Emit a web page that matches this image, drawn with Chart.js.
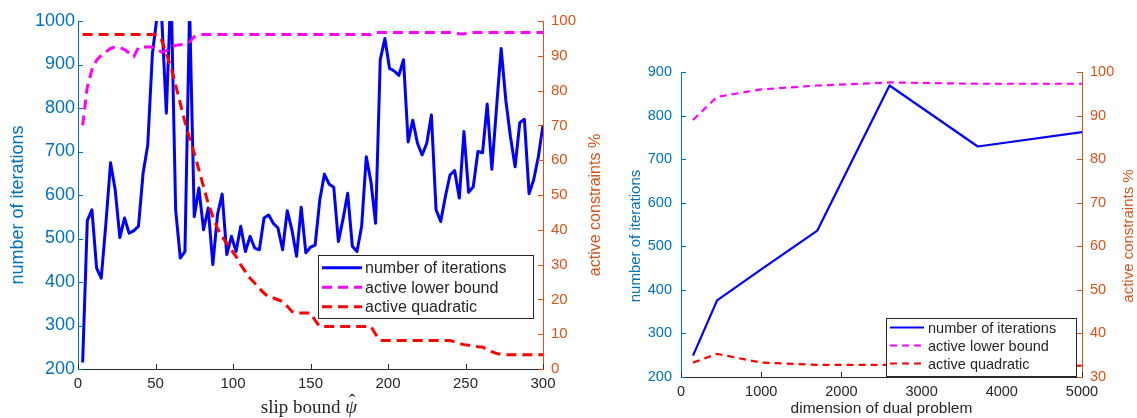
<!DOCTYPE html>
<html>
<head>
<meta charset="utf-8">
<script src="https://cdn.jsdelivr.net/npm/chart.js@4.4.1/dist/chart.umd.min.js"></script>
<style>
  html, body { margin: 0; padding: 0; background: #fff; }
  #wrap { position: relative; width: 1137px; height: 418px; overflow: hidden; }
  canvas { position: absolute; top: 0; }
  #left { left: 0; }
  #right { left: 612px; }
</style>
</head>
<body>
<div id="wrap">
  <canvas id="left" width="612" height="418"></canvas>
  <canvas id="right" width="525" height="418"></canvas>
</div>
<script>
/*================== data: left panel (slip bound sweep) =========================*/
const slipBound = [
  3, 6, 9, 12, 15, 18, 21, 24, 27, 30,
  33, 36, 39, 42, 45, 48, 51, 54, 57, 60,
  63, 66, 69, 72, 75, 78, 81, 84, 87, 90,
  93, 96, 99, 102, 105, 108, 111, 114, 117, 120,
  123, 126, 129, 132, 135, 138, 141, 144, 147, 150,
  153, 156, 159, 162, 165, 168, 171, 174, 177, 180,
  183, 186, 189, 192, 195, 198, 201, 204, 207, 210,
  213, 216, 219, 222, 225, 228, 231, 234, 237, 240,
  243, 246, 249, 252, 255, 258, 261, 264, 267, 270,
  273, 276, 279, 282, 285, 288, 291, 294, 297, 300
];
const itersSlip = [
  215, 541, 566, 432, 409, 535, 674, 612, 502, 547,
  512, 518, 528, 650, 715, 925, 1010, 1010, 788, 1080,
  566, 455, 470, 1030, 550, 616, 520, 570, 440, 555,
  602, 463, 505, 470, 528, 470, 505, 478, 474, 547,
  554, 535, 524, 474, 564, 520, 459, 572, 467, 480,
  485, 589, 648, 625, 618, 493, 545, 604, 482, 470,
  528, 688, 630, 535, 911, 960, 891, 885, 875, 911,
  722, 772, 719, 692, 719, 784, 566, 539, 596, 646,
  656, 593, 746, 606, 619, 700, 697, 809, 659, 800,
  937, 818, 734, 665, 766, 774, 603, 635, 688, 761
];
const lowerSlip = [
  70, 81, 86, 88.7, 90.2, 91.1, 92.1, 92.6, 92.4, 91.8,
  90.8, 89.7, 92.4, 92.5, 92.5, 92.5, 92, 91, 91.5, 92.5,
  93, 93.2, 93.5, 94, 95.5, 96.1, 96.1, 96.1, 96.1, 96.1,
  96.1, 96.1, 96.1, 96.1, 96.1, 96.1, 96.1, 96.1, 96.1, 96.1,
  96.1, 96.1, 96.1, 96.1, 96.1, 96.1, 96.1, 96.1, 96.1, 96.1,
  96.1, 96.1, 96.1, 96.1, 96.1, 96.1, 96.1, 96.1, 96.1, 96.1,
  96.1, 96.1, 96.1, 96.7, 96.7, 96.7, 96.7, 96.7, 96.7, 96.7,
  96.7, 96.7, 96.7, 96.7, 96.7, 96.7, 96.7, 96.7, 96.7, 96.7,
  96.7, 96.3, 96.3, 96.7, 96.7, 96.7, 96.7, 96.7, 96.7, 96.7,
  96.7, 96.7, 96.7, 96.7, 96.7, 96.7, 96.7, 96.7, 96.7, 96.7
];
const quadSlip = [
  96.1, 96.1, 96.1, 96.1, 96.1, 96.1, 96.1, 96.1, 96.1, 96.1,
  96.1, 96.1, 96.1, 96.1, 96.1, 96.1, 96, 94.5, 90.6, 86.8,
  81.6, 76.3, 71, 66.3, 62, 57.2, 52.4, 47.6, 43.8, 40.4,
  38, 36.1, 34.2, 32.3, 29.9, 28, 26.1, 24.7, 23.2, 21.8,
  20.7, 20.4, 19.9, 19.4, 18, 16.5, 16.1, 16.1, 16.1, 16.1,
  14, 12.2, 12.2, 12.2, 12.2, 12.2, 12.2, 12.2, 12.2, 12.2,
  12.2, 12.2, 12.2, 10, 8.2, 8.2, 8.2, 8.2, 8.2, 8.2,
  8.2, 8.2, 8.2, 8.2, 8.2, 8.2, 8.2, 8.2, 8.2, 8.2,
  7.8, 7.3, 7, 6.8, 6.6, 6.4, 6.3, 5.6, 5, 4.5,
  4.2, 4.1, 4.1, 4.1, 4.1, 4.1, 4.1, 4.1, 4.1, 4.1
];
const slipTicks = [0, 50, 100, 150, 200, 250, 300];
const itersTicksL = [200, 300, 400, 500, 600, 700, 800, 900, 1000];
const pctTicksL = [0, 10, 20, 30, 40, 50, 60, 70, 80, 90, 100];

/*================== data: right panel (dual problem size) =========================*/
const dualDim = [150, 450, 1000, 1700, 2600, 3700, 5000];
const itersDim = [249, 376, 447, 536, 869, 729, 762];
const lowerDim = [89, 94.3, 96, 96.9, 97.6, 97.3, 97.3];
const quadDim = [33.3, 35.3, 33.3, 32.8, 32.8, 32.4, 32.6];
const dimTicks = [0, 1000, 2000, 3000, 4000, 5000];
const itersTicksR = [200, 300, 400, 500, 600, 700, 800, 900];
const pctTicksR = [30, 40, 50, 60, 70, 80, 90, 100];

const seriesNames = ['number of iterations', 'active lower bound', 'active quadratic'];

/*================== styling =========================*/
const SANS = '"Liberation Sans", Arial, Helvetica, sans-serif';
const SERIF = '"Liberation Serif", "DejaVu Serif", serif';
const DARK = '#262626';
const AX_BLUE = '#0072BD';
const AX_ORANGE = '#D95319';

const pts = (xs, ys) => xs.map((x, i) => ({ x: x, y: ys[i] }));
const setTicks = arr => scale => { scale.ticks = arr.map(v => ({ value: v })); };

// MATLAB style ticks pointing into the plot box
const innerTicks = {
  id: 'innerTicks',
  afterDatasetsDraw(chart, args, opts) {
    const ctx = chart.ctx;
    const a = chart.chartArea;
    const len = opts.len || 5;
    ctx.save();
    ctx.lineWidth = 1;
    const sx = chart.scales.x;
    ctx.strokeStyle = DARK;
    sx.ticks.forEach(t => {
      const p = Math.round(sx.getPixelForValue(t.value)) + 0.5;
      ctx.beginPath(); ctx.moveTo(p, a.bottom); ctx.lineTo(p, a.bottom - len); ctx.stroke();
    });
    const sy = chart.scales.y;
    ctx.strokeStyle = AX_BLUE;
    sy.ticks.forEach(t => {
      const p = Math.round(sy.getPixelForValue(t.value)) + 0.5;
      ctx.beginPath(); ctx.moveTo(a.left, p); ctx.lineTo(a.left + len, p); ctx.stroke();
    });
    const sy1 = chart.scales.y1;
    ctx.strokeStyle = AX_ORANGE;
    sy1.ticks.forEach(t => {
      const p = Math.round(sy1.getPixelForValue(t.value)) + 0.5;
      ctx.beginPath(); ctx.moveTo(a.right, p); ctx.lineTo(a.right - len, p); ctx.stroke();
    });
    ctx.restore();
  }
};

// rotated y titles, the latex-ish x title and a boxed legend inside the plot
const decor = {
  id: 'decor',
  afterDraw(chart, args, o) {
    const ctx = chart.ctx;
    (o.titles || []).forEach(t => {
      ctx.save();
      ctx.translate(t.x, t.y);
      ctx.rotate(-Math.PI / 2);
      ctx.font = t.size + 'px ' + SANS;
      ctx.fillStyle = t.color;
      ctx.textAlign = 'center';
      ctx.textBaseline = 'middle';
      ctx.fillText(t.text, 0, 0);
      ctx.restore();
    });
    if (o.xTitle) {
      const X = o.xTitle;
      ctx.save();
      ctx.fillStyle = DARK;
      ctx.textBaseline = 'alphabetic';
      ctx.textAlign = 'left';
      const fA = X.size + 'px ' + SERIF;
      const fB = 'italic ' + X.size + 'px ' + SERIF;
      ctx.font = fA;
      const wA = ctx.measureText(X.text).width;
      ctx.font = fB;
      const wB = ctx.measureText(X.sym).width;
      let x0 = X.cx - (wA + wB) / 2;
      ctx.font = fA;
      ctx.fillText(X.text, x0, X.base);
      ctx.font = fB;
      ctx.fillText(X.sym, x0 + wA, X.base);
      // hat over the symbol
      ctx.font = X.size + 'px ' + SERIF;
      ctx.textAlign = 'center';
      ctx.fillText('\u02C6', x0 + wA + wB / 2 + 1, X.base - X.hatLift);
      ctx.restore();
    }
    const L = o.legend;
    if (!L) return;
    ctx.save();
    ctx.fillStyle = '#fff';
    ctx.fillRect(L.x, L.y, L.w, L.h);
    ctx.strokeStyle = DARK;
    ctx.lineWidth = 1;
    ctx.strokeRect(L.x + 0.5, L.y + 0.5, L.w, L.h);
    chart.data.datasets.forEach((ds, i) => {
      const cy = L.y + L.row0 + i * L.rowH;
      ctx.strokeStyle = ds.borderColor;
      ctx.lineWidth = ds.borderWidth;
      ctx.setLineDash(ds.borderDash || []);
      ctx.beginPath(); ctx.moveTo(L.x + L.s0, cy); ctx.lineTo(L.x + L.s1, cy); ctx.stroke();
      ctx.setLineDash([]);
      ctx.fillStyle = DARK;
      ctx.font = L.size + 'px ' + SANS;
      ctx.textAlign = 'left';
      ctx.textBaseline = 'middle';
      ctx.fillText(ds.label, L.x + L.tx, cy + 1);
    });
    ctx.restore();
  }
};

function lineSet(label, data, color, width, dash, axis, order) {
  return {
    label: label, data: data, yAxisID: axis, order: order,
    borderColor: color, borderWidth: width, borderDash: dash,
    borderJoinStyle: 'round', pointRadius: 0, tension: 0, fill: false
  };
}

function axisCommon(color, size, pad) {
  return {
    type: 'linear',
    grid: { drawOnChartArea: false, drawTicks: false },
    border: { color: color, width: 1 },
    ticks: {
      color: color, autoSkip: false, maxRotation: 0, padding: pad,
      font: { family: SANS, size: size },
      callback: v => String(v)
    }
  };
}

/*================== left chart =========================*/
new Chart(document.getElementById('left'), {
  type: 'line',
  data: {
    datasets: [
      lineSet(seriesNames[0], pts(slipBound, itersSlip), '#0000FF', 3, [], 'y', 3),
      lineSet(seriesNames[1], pts(slipBound, lowerSlip), '#FF00FF', 3, [10, 6], 'y1', 2),
      lineSet(seriesNames[2], pts(slipBound, quadSlip), '#FF0000', 3, [10, 6], 'y1', 1)
    ]
  },
  options: {
    responsive: false,
    animation: false,
    layout: { padding: { top: 21, left: 0, right: 0, bottom: 0 } },
    plugins: {
      legend: { display: false },
      tooltip: { enabled: false },
      innerTicks: { len: 5 },
      decor: {
        titles: [
          { text: 'number of iterations', x: 18, y: 205, size: 18, color: AX_BLUE },
          { text: 'active constraints %', x: 596, y: 205, size: 16, color: AX_ORANGE }
        ],
        xTitle: { text: 'slip bound ', sym: 'ψ', cx: 309, base: 413, size: 19, hatLift: 6 },
        legend: { x: 318, y: 255, w: 215, h: 63, row0: 12.7, rowH: 19.5, s0: 4, s1: 44, tx: 47, size: 16 }
      }
    },
    scales: {
      x: Object.assign(axisCommon(DARK, 15, 6), {
        min: 0, max: 300,
        afterBuildTicks: setTicks(slipTicks),
        afterFit: s => { s.height = 49; }
      }),
      y: Object.assign(axisCommon(AX_BLUE, 18, 3), {
        position: 'left', min: 200, max: 1000,
        afterBuildTicks: setTicks(itersTicksL),
        afterFit: s => { s.width = 78; }
      }),
      y1: Object.assign(axisCommon(AX_ORANGE, 15, 8), {
        position: 'right', min: 0, max: 100,
        afterBuildTicks: setTicks(pctTicksL),
        afterFit: s => { s.width = 69; }
      })
    }
  },
  plugins: [innerTicks, decor]
});

/*================== right chart =========================*/
new Chart(document.getElementById('right'), {
  type: 'line',
  data: {
    datasets: [
      lineSet(seriesNames[0], pts(dualDim, itersDim), '#0000FF', 2.2, [], 'y', 3),
      lineSet(seriesNames[1], pts(dualDim, lowerDim), '#FF00FF', 2.2, [7, 5], 'y1', 2),
      lineSet(seriesNames[2], pts(dualDim, quadDim), '#FF0000', 2.2, [7, 5], 'y1', 1)
    ]
  },
  options: {
    responsive: false,
    animation: false,
    layout: { padding: { top: 72, left: 0, right: 0, bottom: 0 } },
    plugins: {
      legend: { display: false },
      tooltip: { enabled: false },
      innerTicks: { len: 5 },
      decor: {
        titles: [
          { text: 'number of iterations', x: 24, y: 236, size: 15, color: AX_BLUE },
          { text: 'active constraints %', x: 517, y: 236, size: 15, color: AX_ORANGE }
        ],
        legend: { x: 274, y: 318, w: 190, h: 58, row0: 9.5, rowH: 18, s0: 4, s1: 38, tx: 42, size: 14.5 }
      }
    },
    scales: {
      x: Object.assign(axisCommon(DARK, 14.5, 6), {
        min: 0, max: 5000,
        afterBuildTicks: setTicks(dimTicks),
        afterFit: s => { s.height = 41; },
        title: { display: true, text: 'dimension of dual problem', color: DARK, font: { family: SANS, size: 15.5 }, padding: { top: 0, bottom: 0 } }
      }),
      y: Object.assign(axisCommon(AX_BLUE, 14.5, 9), {
        position: 'left', min: 200, max: 900,
        afterBuildTicks: setTicks(itersTicksR),
        afterFit: s => { s.width = 69; }
      }),
      y1: Object.assign(axisCommon(AX_ORANGE, 14.5, 8), {
        position: 'right', min: 30, max: 100,
        afterBuildTicks: setTicks(pctTicksR),
        afterFit: s => { s.width = 55; }
      })
    }
  },
  plugins: [innerTicks, decor]
});
</script>
</body>
</html>
